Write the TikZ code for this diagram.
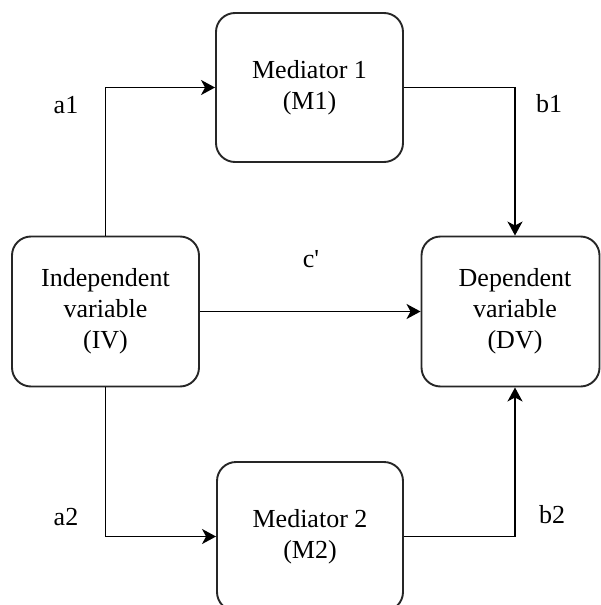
\documentclass[tikz,border=0pt]{standalone}
\usepackage{fontspec}
\setmainfont{Liberation Serif}
\newfontfamily\tnr{Liberation Serif}
\usetikzlibrary{arrows.meta}
\begin{document}
\begin{tikzpicture}[x=1pt,y=-1pt,
  box/.style={draw=black!85, line width=1.9pt, rounded corners=19pt, inner sep=0pt, align=center,
    font=\tnr\fontsize{26}{31}\selectfont},
  lbl/.style={inner sep=0pt, font=\tnr\fontsize{26}{31}\selectfont},
  arr/.style={draw=black, line width=1.9pt, -{Stealth[length=14pt,width=15pt,inset=4pt]}}]
\useasboundingbox (0,0) rectangle (601,605);
\clip (0,0) rectangle (601,605);
\node[box, minimum width=187pt, minimum height=149pt] (M1) at (309.5,87.5) {Mediator 1\\(M1)};
\node[box, minimum width=187pt, minimum height=150pt] (IV) at (105.5,311.5) {Independent\\variable\\(IV)};
\node[box, minimum width=178pt, minimum height=150pt] (DV) at (510.5,311.5) {};
\node[lbl, align=center] (DVt) at (515,311.5) {Dependent\\variable\\(DV)};
\node[box, minimum width=186pt, minimum height=149pt] (M2) at (310,536.5) {Mediator 2\\(M2)};
\coordinate (j1) at (515,87.5);
\coordinate (j2) at (515,536.5);
\draw[arr] (IV.north) |- (M1.west);
\draw[arr] (M1.east) -- (j1) -- (DV.north -| j1);
\draw[arr] (IV.east) -- (DV.west);
\draw[arr] (IV.south) |- (M2.west);
\draw[arr] (M2.east) -- (j2) -- (DV.south -| j2);
\node[lbl] (a1) at (66,105) {a1};
\node[lbl] (a2) at (66,517) {a2};
\node[lbl] (b1) at (549,104) {b1};
\node[lbl] (b2) at (552,515) {b2};
\node[lbl] (c) at (311,259) {c\textquotesingle};
\end{tikzpicture}
\end{document}
